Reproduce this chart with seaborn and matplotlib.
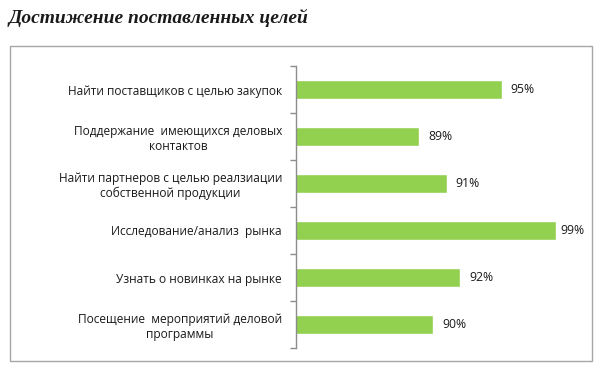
import matplotlib
matplotlib.use("Agg")
import matplotlib.pyplot as plt
import matplotlib.patches as patches
import pandas as pd
import seaborn as sns

# goals and share of visitors who reached them
goals = [
    "Найти поставщиков с целью закупок",
    "Поддержание  имеющихся деловых\nконтактов",
    "Найти партнеров с целью реалзиации\nсобственной продукции",
    "Исследование/анализ  рынка",
    "Узнать о новинках на рынке",
    "Посещение  мероприятий деловой\nпрограммы",
]
values = [95, 89, 91, 99, 92, 90]
title = "Достижение поставленных целей"

df = pd.DataFrame({"goal": goals, "value": values})

sns.set_style("white")
plt.rcParams["font.family"] = ["Open Sans", "DejaVu Sans"]

fig = plt.figure(figsize=(6, 3.71), dpi=100)
ax = fig.add_axes([296 / 600, 1 - 348 / 371, (570 - 296) / 600, (348 - 66) / 371])

sns.barplot(data=df, x="value", y="goal", orient="h", width=0.42,
            color="#92D050", saturation=1, ax=ax)

ax.set_xlim(80, 100)
ax.set_ylim(5.5, -0.5)
ax.set_xlabel("")
ax.set_ylabel("")
ax.set_xticks([])

for s in ["top", "right", "bottom"]:
    ax.spines[s].set_visible(False)
ax.spines["left"].set_color("#8C8C8C")
ax.spines["left"].set_linewidth(1)

# ticks sit between the categories
ax.set_yticks(range(len(goals)))
ax.set_yticklabels(goals, fontsize=8.6, color="#1a1a1a", multialignment="center")
ax.set_yticks([i - 0.5 for i in range(len(goals) + 1)], minor=True)
ax.tick_params(axis="y", which="major", length=0, pad=10)
ax.tick_params(axis="y", which="minor", length=4, width=1, color="#8C8C8C", direction="out", left=True)

for i, v in enumerate(values):
    pad = 0.3 if v >= 99 else 0.65
    ax.text(v + pad, i, f"{v}%", va="center", ha="left", fontsize=8.8, color="#1a1a1a")

# chart frame
fig.patches.append(patches.Rectangle((10 / 600, 1 - 361 / 371), 582 / 600, 315 / 371,
                                     transform=fig.transFigure, fill=False,
                                     edgecolor="#A6A6A6", linewidth=1))

fig.text(8 / 600, 1 - 18 / 371, title, fontsize=14, fontweight="bold", fontstyle="italic",
         family="Liberation Serif", va="center", ha="left", color="#1a1a1a")

fig.savefig("out.png", dpi=100)
